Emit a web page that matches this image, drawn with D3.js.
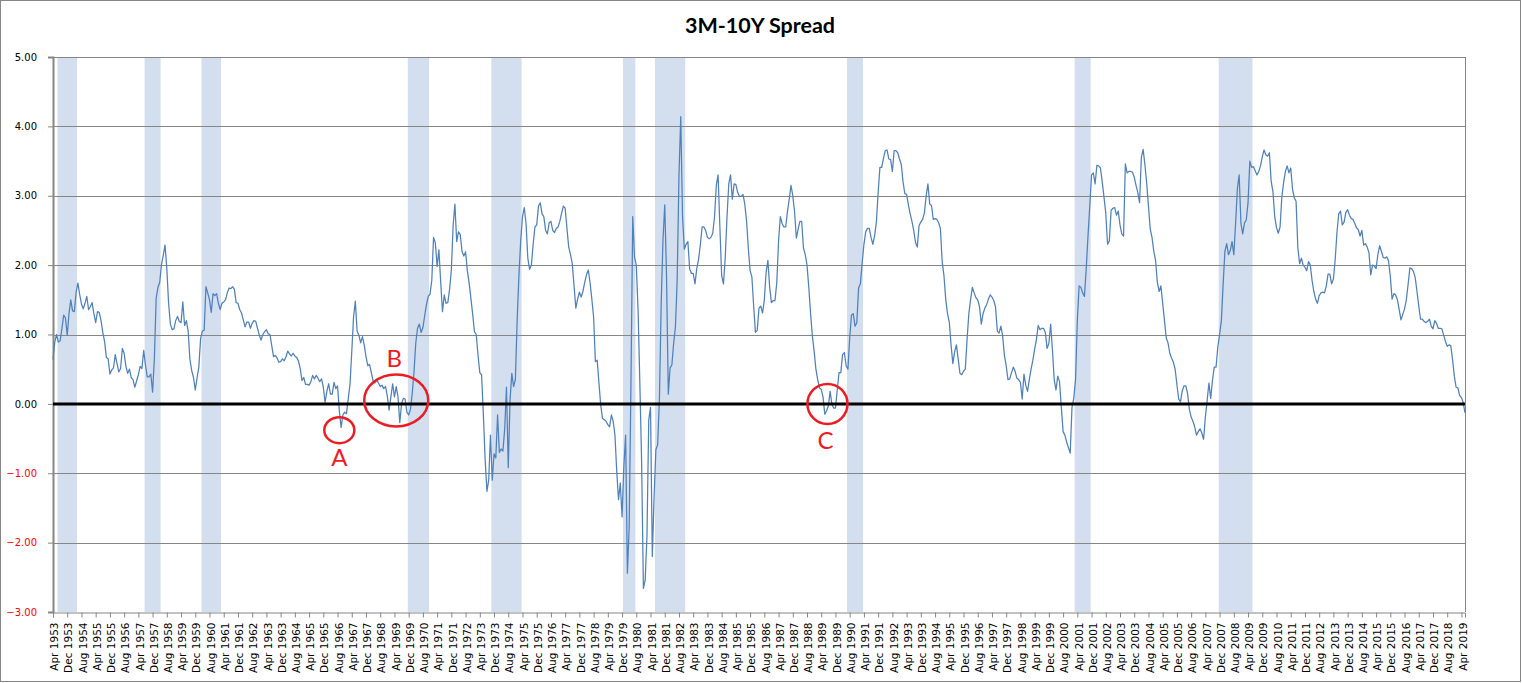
<!DOCTYPE html>
<html>
<head>
<meta charset="utf-8">
<script src="https://cdn.jsdelivr.net/npm/d3@7"></script>
<style>
  body { margin: 0; background: #fff; }
  svg { display: block; }
</style>
</head>
<body>
<div id="chart"></div>
<script>
// 3M-10Y spread, monthly from Apr 1953 to Jun 2019
var startYear = 1953;
var startMonth = 3; // April, 0-based
var monthNames = ["Jan", "Feb", "Mar", "Apr", "May", "Jun", "Jul", "Aug", "Sep", "Oct", "Nov", "Dec"];

var spread = [
  0.64, 0.89, 1.00, 0.89, 0.91, 1.08, 1.28, 1.24, 0.99,                      // 1953 (Apr-Dec)
  1.30, 1.50, 1.34, 1.33, 1.61, 1.74, 1.58, 1.44, 1.37, 1.45, 1.55, 1.36,    // 1954
  1.40, 1.46, 1.30, 1.17, 1.33, 1.32, 1.20, 1.03, 0.90, 0.67, 0.65, 0.43,    // 1955
  0.49, 0.52, 0.71, 0.58, 0.46, 0.51, 0.80, 0.73, 0.54, 0.44, 0.50, 0.38,    // 1956
  0.35, 0.24, 0.33, 0.42, 0.54, 0.51, 0.77, 0.56, 0.39, 0.39, 0.43, 0.17,    // 1957
  0.65, 1.52, 1.68, 1.75, 2.01, 2.14, 2.29, 1.95, 1.45, 1.15, 1.07, 1.08,    // 1958
  1.20, 1.26, 1.19, 1.17, 1.47, 1.13, 1.20, 1.05, 0.64, 0.48, 0.38, 0.20,    // 1959
  0.37, 0.53, 0.94, 1.05, 1.06, 1.69, 1.60, 1.50, 1.32, 1.59, 1.56, 1.59,    // 1960
  1.45, 1.36, 1.45, 1.47, 1.50, 1.60, 1.67, 1.66, 1.69, 1.65, 1.46, 1.45,    // 1961
  1.36, 1.31, 1.21, 1.11, 1.18, 1.18, 1.09, 1.16, 1.20, 1.19, 1.09, 0.99,    // 1962
  0.92, 1.00, 1.04, 1.07, 1.01, 1.00, 0.84, 0.68, 0.70, 0.66, 0.60, 0.61,    // 1963
  0.65, 0.62, 0.68, 0.76, 0.72, 0.69, 0.73, 0.69, 0.67, 0.62, 0.51, 0.34,    // 1964
  0.38, 0.28, 0.28, 0.27, 0.32, 0.41, 0.36, 0.41, 0.37, 0.32, 0.36, 0.24,    // 1965
  0.02, 0.18, 0.29, 0.14, 0.14, 0.31, 0.22, 0.26, -0.10, -0.34, -0.16, -0.12, // 1966
  -0.14, 0.07, 0.28, 0.75, 1.25, 1.48, 1.05, 0.99, 0.88, 0.97, 0.85, 0.68,   // 1967
  0.55, 0.57, 0.45, 0.33, 0.30, 0.35, 0.30, 0.25, 0.27, 0.22, 0.25, 0.11,    // 1968
  -0.09, 0.10, 0.29, 0.10, 0.25, 0.10, -0.27, 0.00, 0.08, 0.07, -0.12, -0.16, // 1969
  -0.08, 0.15, 0.46, 0.88, 1.09, 1.15, 1.03, 1.10, 1.27, 1.43, 1.55, 1.58,   // 1970
  1.78, 2.40, 2.32, 1.98, 2.22, 1.76, 1.33, 1.57, 1.45, 1.46, 1.65, 1.93,    // 1971
  2.57, 2.88, 2.34, 2.48, 2.44, 2.20, 2.13, 2.19, 1.92, 1.74, 1.52, 1.29,    // 1972
  1.04, 1.00, 0.70, 0.45, 0.42, -0.15, -0.80, -1.26, -1.10, -0.45, -1.10, -0.72, // 1973
  -0.78, -0.16, -0.70, -0.65, -0.68, -0.36, 0.24, -0.92, 0.05, 0.44, 0.25, 0.35, // 1974
  1.20, 1.85, 2.35, 2.70, 2.83, 2.60, 2.10, 1.94, 2.00, 2.30, 2.55, 2.58,    // 1975
  2.85, 2.90, 2.74, 2.70, 2.50, 2.45, 2.61, 2.63, 2.50, 2.47, 2.53, 2.55,    // 1976
  2.63, 2.75, 2.85, 2.82, 2.53, 2.26, 2.15, 2.02, 1.70, 1.38, 1.51, 1.61,    // 1977
  1.54, 1.62, 1.75, 1.86, 1.93, 1.75, 1.51, 1.25, 0.61, 0.63, 0.30, -0.02,   // 1978
  -0.21, -0.23, -0.25, -0.30, -0.33, -0.16, -0.25, -0.45, -0.97, -1.38, -1.14, -1.63, // 1979
  -0.90, -0.45, -2.44, -1.77, 0.30, 2.70, 2.12, 2.00, 1.35, 0.30, -0.85, -2.66, // 1980
  -2.54, -1.90, -0.23, -0.05, -2.20, -1.35, -0.66, -0.59, 0.06, 1.45, 2.36, 2.87, // 1981
  1.85, 0.14, 0.52, 0.56, 0.87, 1.11, 1.80, 3.30, 4.14, 2.70, 2.23, 2.30,    // 1982
  2.34, 1.95, 1.88, 1.88, 1.73, 1.95, 2.08, 2.29, 2.55, 2.55, 2.50, 2.40,    // 1983
  2.38, 2.40, 2.46, 2.70, 3.15, 3.30, 2.55, 1.85, 1.73, 2.10, 2.69, 3.17,    // 1984
  3.30, 2.95, 3.17, 3.16, 3.05, 2.99, 2.99, 3.02, 2.88, 2.64, 2.24, 1.92,    // 1985
  1.83, 1.41, 1.03, 1.06, 1.38, 1.41, 1.31, 1.50, 1.90, 2.07, 1.68, 1.46,    // 1986
  1.49, 1.49, 1.75, 2.35, 2.70, 2.60, 2.55, 2.55, 2.77, 2.95, 3.15, 3.00,    // 1987
  2.77, 2.39, 2.52, 2.63, 2.63, 2.25, 2.15, 2.00, 1.68, 1.30, 0.98, 0.76,    // 1988
  0.50, 0.35, 0.23, 0.21, 0.10, -0.15, -0.10, -0.03, 0.18, -0.01, -0.06, -0.06, // 1989
  0.20, 0.45, 0.45, 0.71, 0.74, 0.55, 0.50, 0.95, 1.28, 1.30, 1.12, 1.17,    // 1990
  1.67, 1.73, 2.03, 2.30, 2.48, 2.53, 2.53, 2.40, 2.30, 2.42, 2.62, 3.05,    // 1991
  3.41, 3.41, 3.54, 3.65, 3.66, 3.53, 3.52, 3.35, 3.65, 3.65, 3.62, 3.53,    // 1992
  3.45, 3.20, 3.03, 3.02, 2.87, 2.74, 2.63, 2.50, 2.33, 2.26, 2.57, 2.62,    // 1993
  2.66, 2.75, 3.00, 3.17, 2.88, 2.86, 2.66, 2.67, 2.66, 2.61, 2.53, 2.05,    // 1994
  1.85, 1.51, 1.30, 1.18, 0.85, 0.58, 0.75, 0.85, 0.65, 0.44, 0.42, 0.47,    // 1995
  0.50, 0.93, 1.30, 1.51, 1.68, 1.60, 1.53, 1.50, 1.40, 1.15, 1.30, 1.38,    // 1996
  1.43, 1.51, 1.57, 1.54, 1.49, 1.40, 1.05, 1.02, 1.12, 0.98, 0.70, 0.55,    // 1997
  0.35, 0.36, 0.45, 0.53, 0.47, 0.37, 0.35, 0.31, 0.07, 0.43, 0.27, 0.18,    // 1998
  0.35, 0.50, 0.63, 0.79, 0.93, 1.13, 1.07, 1.09, 1.09, 1.03, 0.80, 0.87,    // 1999
  1.15, 0.78, 0.35, 0.20, 0.40, 0.32, -0.05, -0.40, -0.45, -0.55, -0.63, -0.71, // 2000
  -0.05, 0.08, 0.35, 1.20, 1.70, 1.68, 1.60, 1.55, 1.95, 2.42, 2.85, 3.30,   // 2001
  3.33, 3.17, 3.44, 3.43, 3.40, 3.20, 2.98, 2.75, 2.30, 2.35, 2.79, 2.82,    // 2002
  2.83, 2.72, 2.78, 2.58, 2.45, 2.42, 3.46, 3.33, 3.35, 3.35, 3.34, 3.27,    // 2003
  3.15, 3.05, 2.90, 3.55, 3.67, 3.45, 3.18, 2.85, 2.52, 2.40, 2.20, 2.07,    // 2004
  1.75, 1.62, 1.70, 1.45, 1.20, 0.95, 0.88, 0.73, 0.66, 0.60, 0.50, 0.28,    // 2005
  0.07, 0.03, 0.19, 0.26, 0.26, 0.15, -0.08, -0.19, -0.25, -0.33, -0.45, -0.40, // 2006
  -0.36, -0.42, -0.51, -0.19, 0.05, 0.30, 0.08, 0.34, 0.53, 0.53, 0.82, 1.00, // 2007
  1.20, 1.73, 2.20, 2.31, 2.15, 2.21, 2.34, 2.15, 2.60, 3.10, 3.30, 2.60,    // 2008
  2.45, 2.61, 2.65, 2.90, 3.50, 3.41, 3.42, 3.36, 3.30, 3.35, 3.43, 3.56,    // 2009
  3.66, 3.59, 3.57, 3.62, 3.21, 3.06, 2.70, 2.54, 2.46, 2.55, 2.98, 3.19,    // 2010
  3.35, 3.43, 3.33, 3.40, 3.10, 2.97, 2.92, 2.25, 2.02, 2.10, 2.00, 1.97,    // 2011
  1.92, 2.05, 2.00, 1.78, 1.62, 1.51, 1.45, 1.56, 1.60, 1.61, 1.60, 1.70,    // 2012
  1.87, 1.87, 1.73, 1.80, 2.08, 2.47, 2.74, 2.78, 2.58, 2.62, 2.76, 2.80,    // 2013
  2.72, 2.67, 2.66, 2.60, 2.54, 2.51, 2.42, 2.50, 2.29, 2.31, 2.26, 2.18,    // 2014
  1.86, 2.00, 1.99, 1.95, 2.15, 2.28, 2.20, 2.11, 2.10, 2.12, 2.06, 1.84,    // 2015
  1.51, 1.59, 1.57, 1.50, 1.36, 1.21, 1.29, 1.37, 1.50, 1.72, 1.96, 1.95,    // 2016
  1.91, 1.82, 1.62, 1.41, 1.22, 1.22, 1.19, 1.17, 1.19, 1.22, 1.12, 1.08,    // 2017
  1.20, 1.16, 1.09, 1.09, 1.08, 0.99, 0.90, 0.83, 0.85, 0.84, 0.64, 0.40,    // 2018
  0.24, 0.23, 0.12, 0.09, 0.02, -0.13                                        // 2019 (Jan-Jun)
];

// recession shading (first and last month of each band)
var recessionStarts = ["1953-07", "1957-08", "1960-04", "1969-12", "1973-11", "1980-01", "1981-07", "1990-07", "2001-03", "2007-12"];
var recessionEnds   = ["1954-05", "1958-04", "1961-02", "1970-11", "1975-03", "1980-07", "1982-11", "1991-03", "2001-11", "2009-06"];

var yTicks = [-3, -2, -1, 0, 1, 2, 3, 4, 5];
var labelEvery = 8; // a category label every 8 months

// hand-drawn markers on the chart
var noteLabels = ["A", "B", "C"];
var noteMonths = ["1966-09", "1969-05", "1989-07"];
var noteValues = [-0.38, 0.05, 0.0];

// SVG area
var svgWidth = 1522;
var svgHeight = 683;

var plot = { left: 53, right: 1465, top: 57, bottom: 612 };

var svg = d3.select("#chart")
    .append("svg")
    .attr("width", svgWidth)
    .attr("height", svgHeight);

// month keys, one per value
var months = spread.map(function (d, i) {
    var m = startMonth + i;
    var yr = startYear + Math.floor(m / 12);
    var mo = m % 12 + 1;
    return yr + "-" + (mo < 10 ? "0" + mo : mo);
});

function monthLabel(key) {
    var parts = key.split("-");
    return monthNames[+parts[1] - 1] + " " + parts[0];
}

var x = d3.scalePoint()
    .domain(months)
    .range([plot.left, plot.right]);
var step = x.step();

var y = d3.scaleLinear()
    .domain([-3, 5])
    .range([plot.bottom, plot.top]);

// outer chart border
svg.append("rect")
    .attr("x", 0.5)
    .attr("y", 0.5)
    .attr("width", svgWidth - 2)
    .attr("height", svgHeight - 2)
    .attr("fill", "#fff")
    .attr("stroke", "#868686");

// recession bands
svg.append("g").selectAll("rect")
    .data(recessionStarts)
    .enter()
    .append("rect")
    .attr("x", function (d) { return x(d) - step / 2; })
    .attr("width", function (d, i) { return x(recessionEnds[i]) - x(d) + step; })
    .attr("y", plot.top)
    .attr("height", plot.bottom - plot.top)
    .attr("fill", "#d3deef");

// horizontal gridlines
svg.append("g").selectAll("line")
    .data(yTicks.filter(function (d) { return d !== 0 && d !== -3; }))
    .enter()
    .append("line")
    .attr("x1", plot.left)
    .attr("x2", plot.right)
    .attr("y1", function (d) { return Math.round(y(d)) + 0.5; })
    .attr("y2", function (d) { return Math.round(y(d)) + 0.5; })
    .attr("stroke", "#868686")
    .attr("stroke-width", 1);

// right border of plot area
svg.append("line")
    .attr("x1", plot.right + 0.5)
    .attr("x2", plot.right + 0.5)
    .attr("y1", plot.top)
    .attr("y2", plot.bottom)
    .attr("stroke", "#868686");

// x axis along the bottom
var bottomAxis = d3.axisBottom(x)
    .tickValues(months.filter(function (d, i) { return i % labelEvery === 0; }))
    .tickSize(5)
    .tickFormat(monthLabel);

var xAxis = svg.append("g")
    .attr("transform", "translate(0," + (plot.bottom + 0.5) + ")")
    .call(bottomAxis);

xAxis.select(".domain").attr("stroke", "#868686");
xAxis.selectAll(".tick line").attr("stroke", "#868686");
xAxis.selectAll("text")
    .attr("transform", "rotate(-90)")
    .attr("x", -10)
    .attr("y", 1)
    .attr("dy", "0.35em")
    .style("text-anchor", "end")
    .style("font-family", "'DejaVu Sans', Verdana, sans-serif")
    .style("font-size", "10.5px")
    .attr("fill", "#000");

// y axis
var leftAxis = d3.axisLeft(y)
    .tickValues(yTicks)
    .tickSize(5)
    .tickPadding(11)
    .tickFormat(d3.format(".2f"));

var yAxis = svg.append("g")
    .attr("transform", "translate(" + plot.left + ",0)")
    .call(leftAxis);

yAxis.select(".domain").attr("stroke", "#868686").attr("stroke-width", 2);
yAxis.selectAll(".tick line").attr("stroke", "#868686");
yAxis.selectAll("text")
    .style("font-family", "'DejaVu Sans', Verdana, sans-serif")
    .style("font-size", "10px")
    .attr("fill", function (d) { return d < 0 ? "#ff0000" : "#000"; });

// spread line
var line = d3.line()
    .x(function (d, i) { return x(months[i]); })
    .y(function (d) { return y(d); });

svg.append("path")
    .datum(spread)
    .attr("d", line)
    .attr("fill", "none")
    .attr("stroke", "#4f81bd")
    .attr("stroke-width", 1.25)
    .attr("stroke-linejoin", "round");

// zero line
svg.append("line")
    .attr("x1", plot.left)
    .attr("x2", plot.right)
    .attr("y1", y(0))
    .attr("y2", y(0))
    .attr("stroke", "#000")
    .attr("stroke-width", 3);

// title
svg.append("text")
    .attr("x", 760)
    .attr("y", 33)
    .attr("text-anchor", "middle")
    .style("font-family", "Lato, 'Open Sans', sans-serif")
    .style("font-weight", "bold")
    .style("font-size", "21.5px")
    .text("3M-10Y Spread");

// red circles and letters
var noteRx = [15, 32, 20];
var noteRy = [13, 26, 20];
var noteLabelY = [36, -33, 45]; // baseline offset from circle centre
var noteLabelDx = [0, -2, -2];

var notes = svg.append("g");
noteLabels.forEach(function (lbl, i) {
    var cx = x(noteMonths[i]) + (lbl === "C" ? step / 2 : 0);
    var cy = y(noteValues[i]);
    notes.append("ellipse")
        .attr("cx", cx)
        .attr("cy", cy)
        .attr("rx", noteRx[i])
        .attr("ry", noteRy[i])
        .attr("fill", "none")
        .attr("stroke", "#ed1c24")
        .attr("stroke-width", 2.5);
    notes.append("text")
        .attr("x", cx + noteLabelDx[i])
        .attr("y", cy + noteLabelY[i])
        .attr("text-anchor", "middle")
        .style("font-family", "Lato, 'Open Sans', sans-serif")
        .style("font-size", "24px")
        .attr("fill", "#ed1c24")
        .text(lbl);
});
</script>
</body>
</html>
